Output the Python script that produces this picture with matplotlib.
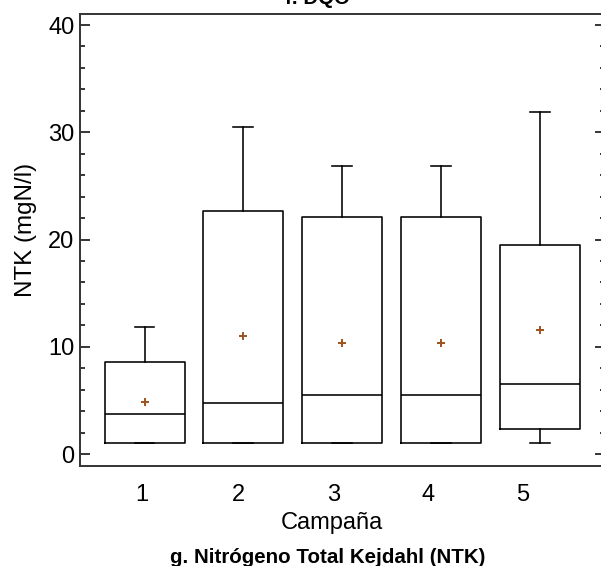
import matplotlib
matplotlib.use("Agg")
import matplotlib.pyplot as plt
from matplotlib.ticker import MultipleLocator

plt.rcParams['font.family'] = ['Liberation Sans', 'DejaVu Sans']

# NTK por campaña (mgN/l): resumen de cada caja
campanas = ["1", "2", "3", "4", "5"]
minimos = [1.06, 1.06, 1.06, 1.06, 1.06]
q1 = [1.06, 1.06, 1.06, 1.06, 2.3]
medianas = [3.77, 4.77, 5.54, 5.54, 6.54]
q3 = [8.6, 22.7, 22.06, 22.06, 19.47]
maximos = [11.8, 30.5, 26.9, 26.9, 31.9]
medias = [4.86, 11.0, 10.35, 10.35, 11.6]

stats = []
for i in range(len(campanas)):
    stats.append({
        "label": campanas[i],
        "whislo": minimos[i], "q1": q1[i], "med": medianas[i],
        "q3": q3[i], "whishi": maximos[i], "mean": medias[i],
    })

fig = plt.figure(figsize=(6.01, 5.66), dpi=100)
ax = fig.add_axes([80 / 601, 1 - 465.7 / 566, 525 / 601, (465.7 - 14.3) / 566])

pos = [1, 2, 3, 4, 5]
lw = 1.15
ax.bxp(stats, positions=pos, widths=0.81, showmeans=True, showfliers=False,
       boxprops=dict(color="black", linewidth=lw),
       whiskerprops=dict(color="black", linewidth=lw),
       capprops=dict(color="black", linewidth=lw),
       medianprops=dict(color="black", linewidth=lw),
       meanprops=dict(marker="+", markeredgecolor="#a0521e", markersize=6,
                      markeredgewidth=1.4),
       capwidths=0.2)

ax.set_xlim(0.347, 5.66)
ax.set_ylim(-1.09, 41.0)

# etiquetas de campaña algo desplazadas respecto a las cajas
ax.set_xticks([0.975, 1.947, 2.909, 3.87, 4.83])
ax.set_xticklabels(campanas, fontsize=17)
ax.tick_params(axis="x", length=0, pad=13)

ax.yaxis.set_major_locator(MultipleLocator(10))
ax.yaxis.set_minor_locator(MultipleLocator(2))
ax.tick_params(axis="y", which="major", direction="in", length=7, width=1.1,
               labelsize=17, right=True, pad=4)
ax.tick_params(axis="y", which="minor", direction="in", length=3.6, width=1.1,
               right=True)

for s in ax.spines.values():
    s.set_linewidth(1.4)
    s.set_color("#333333")

fig.text(26 / 601, 1 - 230 / 566, "NTK (mgN/l)", rotation=90, fontsize=17.4,
         ha="center", va="center")
fig.text(332 / 601, 1 - 529 / 566, "Campaña", fontsize=17, ha="center",
         va="baseline")
fig.text(328 / 601, 1 - 563 / 566, "g. Nitrógeno Total Kejdahl (NTK)",
         fontsize=14.8, fontweight="bold", ha="center", va="baseline")
fig.text(317 / 601, 1 - 4 / 566, "f. DQO", fontsize=14.8, fontweight="bold",
         ha="center", va="baseline")

fig.savefig("out.png", dpi=100)
